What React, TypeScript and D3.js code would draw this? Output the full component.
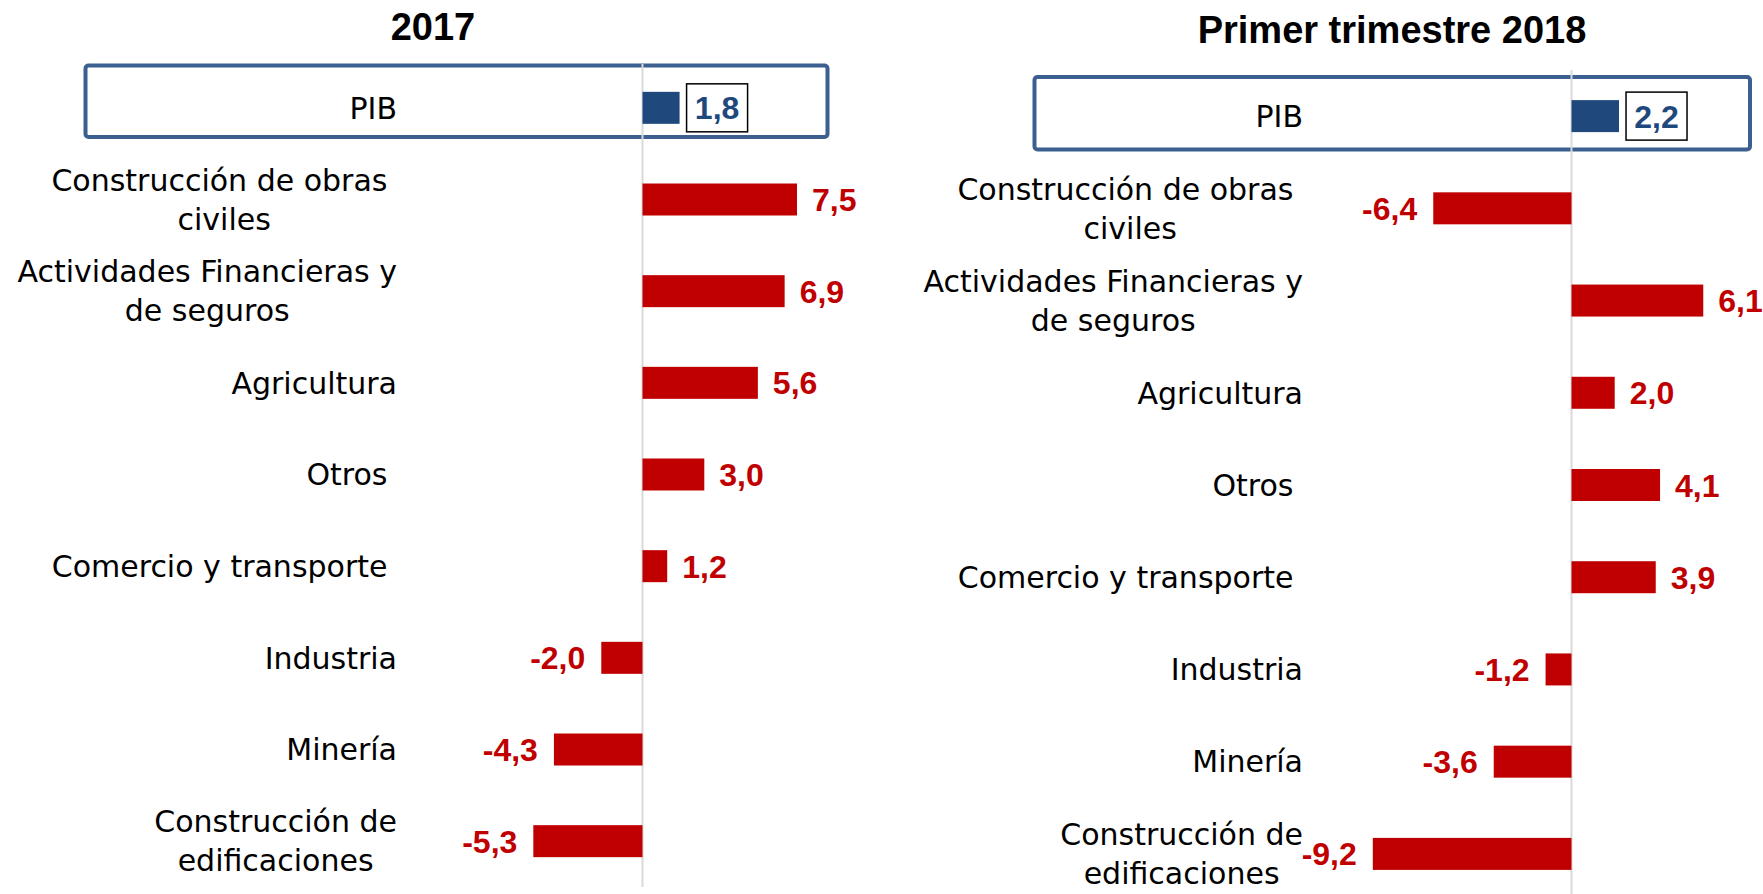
import React, { useEffect, useRef } from "react";
import * as d3 from "d3";

// category labels (one entry per line; trailing spaces are kept as in the source)
const categoryLines: string[][] = [
  ["PIB"],
  ["Construcción de obras ", "civiles"],
  ["Actividades Financieras y", "de seguros"],
  ["Agricultura"],
  ["Otros "],
  ["Comercio y transporte "],
  ["Industria"],
  ["Minería"],
  ["Construcción de", "edificaciones"],
];

const values2017 = [1.8, 7.5, 6.9, 5.6, 3.0, 1.2, -2.0, -4.3, -5.3];
const values2018q1 = [2.2, -6.4, 6.1, 2.0, 4.1, 3.9, -1.2, -3.6, -9.2];

const panelTitles = ["2017", "Primer trimestre 2018"];

const RED = "#C00000";
const BLUE = "#1F497D";
const BOX = "#3B5F8F";

const locale = d3.formatLocale({
  decimal: ",",
  thousands: ".",
  grouping: [3],
  currency: ["", ""],
  minus: "-",
});
const fmt = locale.format(".1f");

type Panel = {
  title: string;
  values: number[];
  zero: number;
  unit: number;
  top: number;
  bottom: number;
  labelRight: number;
  titleX: number;
  titleY: number;
  box: [number, number, number, number];
  axisTop: number;
  axisBottom: number;
};

const panels: Panel[] = [
  {
    title: panelTitles[0],
    values: values2017,
    zero: 642.5,
    unit: 20.6,
    top: 62,
    bottom: 887,
    labelRight: 397,
    titleX: 433,
    titleY: 40,
    box: [85.5, 65.5, 742, 71.5],
    axisTop: 64,
    axisBottom: 887,
  },
  {
    title: panelTitles[1],
    values: values2018q1,
    zero: 1571.5,
    unit: 21.6,
    top: 70,
    bottom: 900,
    labelRight: 1303,
    titleX: 1392,
    titleY: 43,
    box: [1034.5, 77, 715.5, 72.5],
    axisTop: 70,
    axisBottom: 894,
  },
];

const App = () => {
  const ref = useRef<SVGSVGElement>(null);

  useEffect(() => {
    const svg = d3.select(ref.current);
    svg.selectAll("*").remove();

    panels.forEach((p) => {
      const g = svg.append("g");
      const x = d3
        .scaleLinear()
        .domain([-10, 10])
        .range([p.zero - 10 * p.unit, p.zero + 10 * p.unit]);
      const y = d3
        .scalePoint<number>()
        .domain(d3.range(categoryLines.length))
        .range([p.top, p.bottom])
        .padding(0.5);
      const barH = 32;

      g.append("text")
        .attr("x", p.titleX)
        .attr("y", p.titleY)
        .attr("text-anchor", "middle")
        .attr("font-family", "'Liberation Sans', Arial, sans-serif")
        .attr("font-weight", "bold")
        .attr("font-size", 38)
        .attr("fill", "#000")
        .text(p.title);

      // PIB highlight box
      g.append("rect")
        .attr("x", p.box[0])
        .attr("y", p.box[1])
        .attr("width", p.box[2])
        .attr("height", p.box[3])
        .attr("rx", 3)
        .attr("fill", "none")
        .attr("stroke", BOX)
        .attr("stroke-width", 4);

      // zero line
      g.append("line")
        .attr("x1", x(0))
        .attr("x2", x(0))
        .attr("y1", p.axisTop)
        .attr("y2", p.axisBottom)
        .attr("stroke", "#D9D9D9")
        .attr("stroke-width", 2);

      // category labels
      categoryLines.forEach((lines, i) => {
        const lh = 39;
        const t = g
          .append("text")
          .attr("font-family", "'DejaVu Sans', sans-serif")
          .attr("font-size", 30)
          .attr("fill", "#000")
          .attr("text-anchor", "middle")
          .style("white-space", "pre");
        const spans = lines.map((line, j) =>
          t
            .append("tspan")
            .attr("y", (y(i) as number) + (j - (lines.length - 1) / 2) * lh)
            .attr("dy", "0.36em")
            .text(line)
        );
        const w = d3.max(spans, (s) => (s.node() as SVGTSpanElement).getComputedTextLength()) || 0;
        spans.forEach((s) => s.attr("x", p.labelRight - w / 2));
      });

      // bars
      g.selectAll("rect.bar")
        .data(p.values)
        .enter()
        .append("rect")
        .attr("class", "bar")
        .attr("x", (d) => Math.min(x(0), x(d)))
        .attr("y", (d, i) => (y(i) as number) - barH / 2)
        .attr("width", (d) => Math.abs(x(d) - x(0)))
        .attr("height", barH)
        .attr("fill", (d, i) => (i === 0 ? BLUE : RED));

      // value labels
      p.values.forEach((d, i) => {
        const cy = y(i) as number;
        if (i === 0) {
          const bx = x(d) + 7;
          const bw = 61;
          const bh = 48;
          g.append("rect")
            .attr("x", bx)
            .attr("y", cy - bh / 2)
            .attr("width", bw)
            .attr("height", bh)
            .attr("fill", "#fff")
            .attr("stroke", "#000")
            .attr("stroke-width", 1.5);
          g.append("text")
            .attr("x", bx + bw / 2)
            .attr("y", cy)
            .attr("dy", "0.36em")
            .attr("text-anchor", "middle")
            .attr("font-family", "'Liberation Sans', Arial, sans-serif")
            .attr("font-weight", "bold")
            .attr("font-size", 32)
            .attr("fill", BLUE)
            .text(fmt(d));
          return;
        }
        g.append("text")
          .attr("x", d >= 0 ? x(d) + 15 : x(d) - 16)
          .attr("y", cy)
          .attr("dy", "0.36em")
          .attr("text-anchor", d >= 0 ? "start" : "end")
          .attr("font-family", "'Liberation Sans', Arial, sans-serif")
          .attr("font-weight", "bold")
          .attr("font-size", 32)
          .attr("fill", RED)
          .text(fmt(d));
      });
    });
  }, []);

  return (
    <svg
      ref={ref}
      width={1763}
      height={894}
      style={{ position: "absolute", left: 0, top: 0, background: "#fff" }}
    />
  );
};

export default App;
